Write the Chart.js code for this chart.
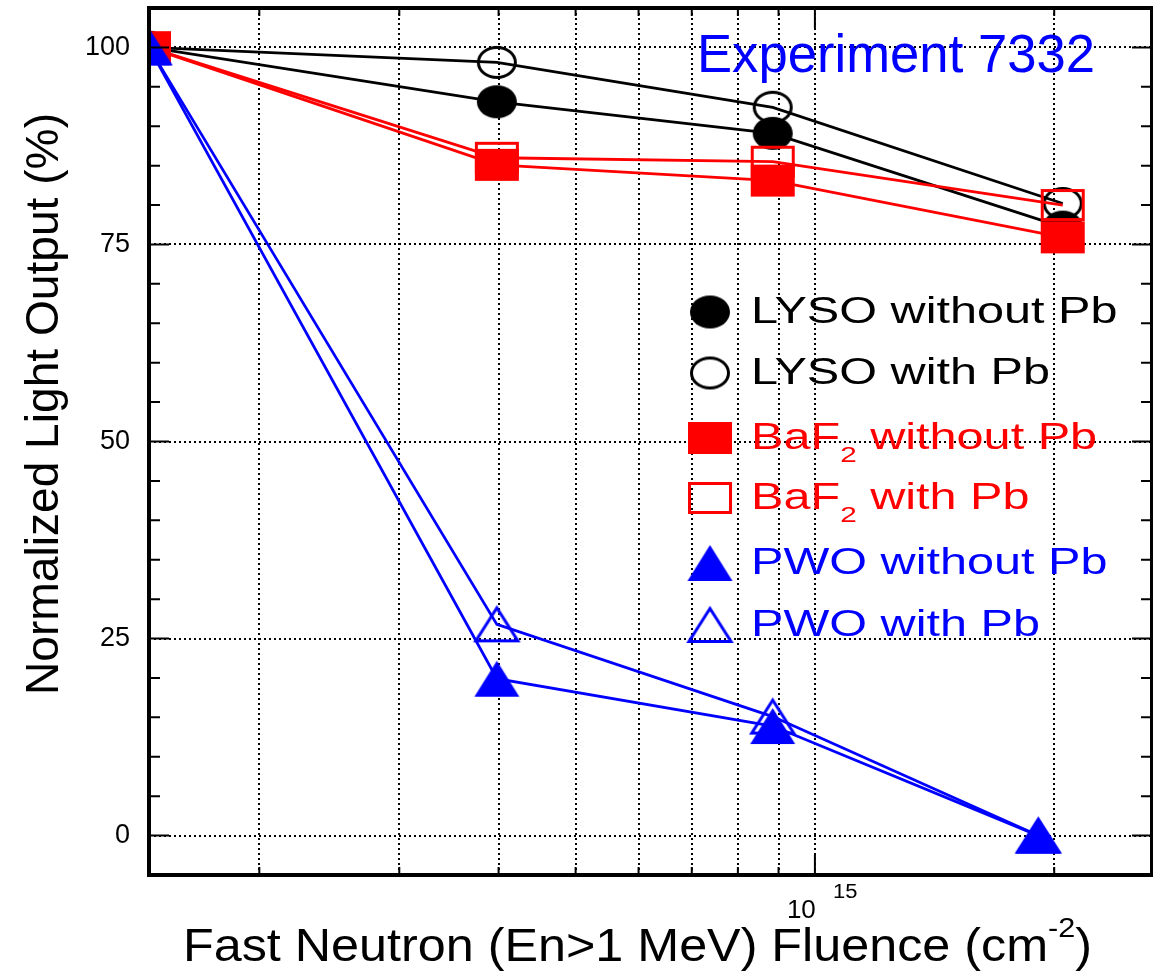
<!DOCTYPE html>
<html>
<head>
<meta charset="utf-8">
<title>Normalized Light Output vs Fast Neutron Fluence</title>
<script src="https://cdn.jsdelivr.net/npm/chart.js@4.4.1/dist/chart.umd.min.js"></script>
<style>
    html, body { margin: 0; padding: 0; background: #fff; }
    canvas { display: block; }
</style>
</head>
<body>
<canvas id="lightChart" width="1153" height="972"></canvas>
<script>
// fluence (cm^-2) of each irradiation step, first point is the reference
const lysoFluence = [1.453e14, 3.98e14, 8.85e14, 2.05e15];
const bafFluence = [1.453e14, 3.98e14, 8.85e14, 2.05e15];
const pwoFluence = [1.453e14, 3.98e14, 8.85e14, 1.91e15];

// normalized light output (%)
const lysoWithoutPb = [100, 93.1, 89.1, 77.2];
const lysoWithPb = [100, 98.1, 92.4, 80.2];
const bafWithoutPb = [100, 85.1, 83.1, 75.9];
const bafWithPb = [100, 86.0, 85.5, 80.0];
const pwoWithoutPb = [100, 19.9, 13.9, 0];
const pwoWithPb = [100, 26.8, 15.1, 0];

// axes
const xGridValues = [2e14, 3e14, 4e14, 5e14, 6e14, 7e14, 8e14, 9e14, 1e15, 2e15];
const xLabelValue = 1e15;
const yTickValues = [0, 25, 50, 75, 100];
const xMin = 1.453e14;
const xMax = 2.655e15;
const yMin = -5;
const yMax = 105;

const FONT = '"Liberation Sans", Arial, Helvetica, sans-serif';
const BLACK = '#000000';
const RED = '#ff0000';
const BLUE = '#0000ff';

// markers are a bit wider than tall in the original, so draw them on small canvases
function makeMarker(shape, w, h, color, filled) {
    const lw = 3;
    const c = document.createElement('canvas');
    c.width = w + 2 * lw;
    c.height = h + 2 * lw;
    const g = c.getContext('2d');
    const cx = c.width / 2, cy = c.height / 2;
    const rx = w / 2 - (filled ? 0 : lw / 2);
    const ry = h / 2 - (filled ? 0 : lw / 2);
    g.beginPath();
    if (shape === 'circle') {
        g.ellipse(cx, cy, rx, ry, 0, 0, Math.PI * 2);
    } else if (shape === 'rect') {
        g.rect(cx - rx, cy - ry, 2 * rx, 2 * ry);
    } else {
        g.moveTo(cx, cy - ry);
        g.lineTo(cx + rx, cy + ry);
        g.lineTo(cx - rx, cy + ry);
        g.closePath();
    }
    if (filled) {
        g.fillStyle = color;
        g.fill();
    } else {
        g.strokeStyle = color;
        g.lineWidth = lw;
        g.stroke();
    }
    return c;
}

const mk = {
    lysoFilled: makeMarker('circle', 40, 33, BLACK, true),
    lysoOpen: makeMarker('circle', 40, 33, BLACK, false),
    bafFilled: makeMarker('rect', 44, 32, RED, true),
    bafOpen: makeMarker('rect', 44, 32, RED, false),
    pwoFilled: makeMarker('triangle', 45, 36, BLUE, true),
    pwoOpen: makeMarker('triangle', 45, 36, BLUE, false)
};

function toPoints(xs, ys) {
    return xs.map((x, i) => ({ x: x, y: ys[i] }));
}

function series(label, xs, ys, color, img) {
    return {
        label: label,
        data: toPoints(xs, ys),
        showLine: true,
        borderColor: color,
        backgroundColor: color,
        borderWidth: 2.8,
        pointStyle: img,
        pointRadius: 20,
        pointHoverRadius: 20,
        tension: 0
    };
}

// text run helper: parts drawn one after another, stretched by sx
function runWidth(ctx, parts) {
    let w = 0;
    parts.forEach(p => {
        ctx.font = p.size + 'px ' + FONT;
        w += ctx.measureText(p.t).width;
    });
    return w;
}

function drawRun(ctx, parts, x, y, sx, color) {
    ctx.save();
    ctx.translate(x, y);
    ctx.scale(sx, 1);
    ctx.fillStyle = color;
    ctx.textAlign = 'left';
    ctx.textBaseline = 'alphabetic';
    let cx = 0;
    parts.forEach(p => {
        ctx.font = p.size + 'px ' + FONT;
        ctx.fillText(p.t, cx, p.dy || 0);
        cx += ctx.measureText(p.t).width;
    });
    ctx.restore();
}

const decorPlugin = {
    id: 'decor',
    afterDraw(chart) {
        const ctx = chart.ctx;
        const { left, right, top, bottom } = chart.chartArea;
        const xs = chart.scales.x;
        const ys = chart.scales.y;

        // inward tick marks
        ctx.save();
        ctx.strokeStyle = BLACK;
        ctx.lineWidth = 2;
        ctx.beginPath();
        for (let v = 0; v <= 100; v += 5) {
            const y = ys.getPixelForValue(v);
            const len = v % 25 === 0 ? 20 : 11;
            ctx.moveTo(left, y); ctx.lineTo(left + len, y);
            ctx.moveTo(right, y); ctx.lineTo(right - len, y);
        }
        xGridValues.forEach(v => {
            const x = xs.getPixelForValue(v);
            const len = v === xLabelValue ? 20 : 8;
            ctx.moveTo(x, bottom); ctx.lineTo(x, bottom - len);
            ctx.moveTo(x, top); ctx.lineTo(x, top + len);
        });
        ctx.stroke();

        // frame
        ctx.lineWidth = 4;
        ctx.strokeRect(left, top, right - left, bottom - top);
        ctx.restore();

        // x tick label 10^15
        const x15 = xs.getPixelForValue(xLabelValue);
        drawRun(ctx, [{ t: '10', size: 26 }], x15 - 28, bottom + 43, 1, BLACK);
        drawRun(ctx, [{ t: '15', size: 20 }], x15 + 18, bottom + 23, 1.1, BLACK);

        // x title
        const xTitle = [
            { t: 'Fast Neutron (En>1 MeV) Fluence (cm', size: 46 },
            { t: '-2', size: 28, dy: -24 },
            { t: ')', size: 46 }
        ];
        drawRun(ctx, xTitle, 183, 961, 909 / runWidth(ctx, xTitle), BLACK);

        // y title
        ctx.save();
        ctx.translate(58, 404);
        ctx.rotate(-Math.PI / 2);
        ctx.font = '47px ' + FONT;
        const yText = 'Normalized Light Output (%)';
        const sy = 582 / ctx.measureText(yText).width;
        ctx.scale(sy, 1);
        ctx.fillStyle = BLACK;
        ctx.textAlign = 'center';
        ctx.textBaseline = 'alphabetic';
        ctx.fillText(yText, 0, 0);
        ctx.restore();

        // experiment tag
        const tag = [{ t: 'Experiment 7332', size: 53 }];
        drawRun(ctx, tag, 697, 72, 398 / runWidth(ctx, tag), BLUE);

        // legend
        const rows = [
            { img: mk.lysoFilled, color: BLACK, parts: [{ t: 'LYSO without Pb', size: 36 }] },
            { img: mk.lysoOpen, color: BLACK, parts: [{ t: 'LYSO with Pb', size: 36 }] },
            { img: mk.bafFilled, color: RED, parts: [{ t: 'BaF', size: 36 }, { t: '2', size: 22, dy: 13 }, { t: ' without Pb', size: 36 }] },
            { img: mk.bafOpen, color: RED, parts: [{ t: 'BaF', size: 36 }, { t: '2', size: 22, dy: 13 }, { t: ' with Pb', size: 36 }] },
            { img: mk.pwoFilled, color: BLUE, parts: [{ t: 'PWO without Pb', size: 36 }] },
            { img: mk.pwoOpen, color: BLUE, parts: [{ t: 'PWO with Pb', size: 36 }] }
        ];
        const rowY = [312, 373, 438, 498, 563, 625];
        rows.forEach((r, i) => {
            const cy = rowY[i];
            ctx.drawImage(r.img, 710 - r.img.width / 2, cy - r.img.height / 2);
            drawRun(ctx, r.parts, 751, cy + 11, 1.35, r.color);
        });
    }
};

function createLightChart() {
    const ctx = document.getElementById('lightChart').getContext('2d');
    new Chart(ctx, {
        type: 'scatter',
        data: {
            datasets: [
                series('PWO without Pb', pwoFluence, pwoWithoutPb, BLUE, mk.pwoFilled),
                series('PWO with Pb', pwoFluence, pwoWithPb, BLUE, mk.pwoOpen),
                series('BaF2 without Pb', bafFluence, bafWithoutPb, RED, mk.bafFilled),
                series('BaF2 with Pb', bafFluence, bafWithPb, RED, mk.bafOpen),
                series('LYSO without Pb', lysoFluence, lysoWithoutPb, BLACK, mk.lysoFilled),
                series('LYSO with Pb', lysoFluence, lysoWithPb, BLACK, mk.lysoOpen)
            ]
        },
        options: {
            responsive: false,
            animation: false,
            devicePixelRatio: 1,
            layout: {
                autoPadding: false,
                padding: { left: 0, top: 8, right: 1, bottom: 0 }
            },
            plugins: {
                legend: { display: false },
                tooltip: { enabled: false }
            },
            scales: {
                x: {
                    type: 'logarithmic',
                    min: xMin,
                    max: xMax,
                    z: 1, // dotted grid sits over the markers like in the original
                    afterBuildTicks: s => { s.ticks = xGridValues.map(v => ({ value: v })); },
                    afterFit: s => {
                        s.height = 97;
                        s.paddingLeft = 0;
                        s.paddingRight = 0;
                    },
                    grid: { color: BLACK, lineWidth: 2, drawTicks: false },
                    border: { display: false, dash: [2, 3] },
                    ticks: { display: false, autoSkip: false }
                },
                y: {
                    type: 'linear',
                    min: yMin,
                    max: yMax,
                    z: 1,
                    afterBuildTicks: s => { s.ticks = yTickValues.map(v => ({ value: v })); },
                    afterFit: s => {
                        s.width = 149;
                        s.paddingTop = 0;
                        s.paddingBottom = 0;
                    },
                    grid: { color: BLACK, lineWidth: 2, drawTicks: false },
                    border: { display: false, dash: [2, 3] },
                    ticks: {
                        color: BLACK,
                        font: { family: FONT, size: 27 },
                        padding: 19,
                        autoSkip: false,
                        callback: v => String(v)
                    }
                }
            }
        },
        plugins: [decorPlugin]
    });
}

document.addEventListener('DOMContentLoaded', createLightChart);
</script>
</body>
</html>
